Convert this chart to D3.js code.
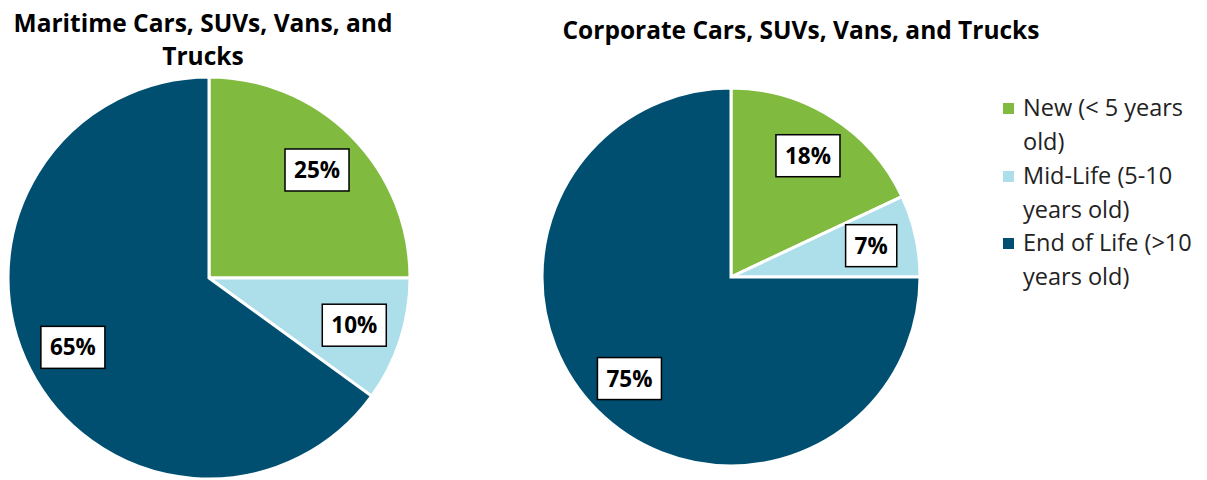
<!DOCTYPE html>
<html>
<head>
<meta charset="utf-8">
<script src="https://cdn.jsdelivr.net/npm/d3@7"></script>
<style>
  body { margin: 0; background: #fff; }
  svg text { font-family: "Open Sans", Lato, sans-serif; }
</style>
</head>
<body>
<script>
// values
const categories = ["New (< 5 years old)", "Mid-Life (5-10 years old)", "End of Life (>10 years old)"];
const legendLines = [["New (< 5 years", "old)"], ["Mid-Life (5-10", "years old)"], ["End of Life (>10", "years old)"]];
const colors = ["#80BA3F", "#ADDFEB", "#004F71"];
const maritimeValues = [25, 10, 65];
const corporateValues = [18, 7, 75];
const maritimeTitle = ["Maritime Cars, SUVs, Vans, and", "Trucks"];
const corporateTitle = ["Corporate Cars, SUVs, Vans, and Trucks"];

let width = 1207, height = 480;

let svg = d3.select('body').append('svg')
    .attr('width', width)
    .attr('height', height);

let color = d3.scaleOrdinal().domain(categories).range(colors);

let charts = [
    {values: maritimeValues, title: maritimeTitle, cx: 209, cy: 278, r: 201, tx: 203, ty: 32},
    {values: corporateValues, title: corporateTitle, cx: 731, cy: 277, r: 189, tx: 801, ty: 39}
];

charts.forEach(c => {
    let data = c.values.map((v, i) => ({cat: categories[i], value: v}));
    let pie = d3.pie().sort(null).value(d => d.value);
    let arc = d3.arc().innerRadius(0).outerRadius(c.r);
    let labelArc = d3.arc().innerRadius(c.r * 0.76).outerRadius(c.r * 0.76);

    let g = svg.append('g').attr('transform', `translate(${c.cx},${c.cy})`);
    let arcs = pie(data);

    g.selectAll('path').data(arcs).enter().append('path')
        .attr('d', arc)
        .attr('fill', d => color(d.data.cat))
        .attr('stroke', '#fff')
        .attr('stroke-width', 3);

    // percentage boxes
    let labels = g.selectAll('g.lbl').data(arcs).enter().append('g')
        .attr('class', 'lbl')
        .attr('transform', d => `translate(${labelArc.centroid(d)})`);
    labels.append('rect');
    labels.append('text')
        .attr('text-anchor', 'middle')
        .attr('dy', '0.36em')
        .style('font-size', '22.5px')
        .style('font-weight', 'bold')
        .text(d => d.data.value + '%');
    labels.each(function(){
        let t = d3.select(this).select('text').node().getBBox();
        d3.select(this).select('rect')
            .attr('x', t.x - 9).attr('y', -21)
            .attr('width', t.width + 18).attr('height', 42)
            .attr('fill', '#fff').attr('stroke', '#000').attr('stroke-width', 1.5);
    });

    // title
    let title = svg.append('text')
        .attr('text-anchor', 'middle')
        .attr('x', c.tx).attr('y', c.ty)
        .style('font-size', '24.5px')
        .style('font-weight', 'bold')
        .attr('fill', '#000');
    c.title.forEach((line, i) => {
        title.append('tspan').attr('x', c.tx).attr('dy', i === 0 ? 0 : 33).text(line);
    });
});

// legend
let legend = svg.append('g').attr('transform', 'translate(1003,0)');
let rowY = [108, 176, 243];
categories.forEach((cat, i) => {
    legend.append('rect')
        .attr('x', 0).attr('y', rowY[i] - 5)
        .attr('width', 11).attr('height', 11)
        .attr('fill', color(cat));
    legendLines[i].forEach((line, j) => {
        legend.append('text')
            .attr('x', 20).attr('y', rowY[i] + j * 34)
            .attr('dy', '0.35em')
            .style('font-size', '23.5px')
            .attr('fill', '#222')
            .text(line);
    });
});
</script>
</body>
</html>
